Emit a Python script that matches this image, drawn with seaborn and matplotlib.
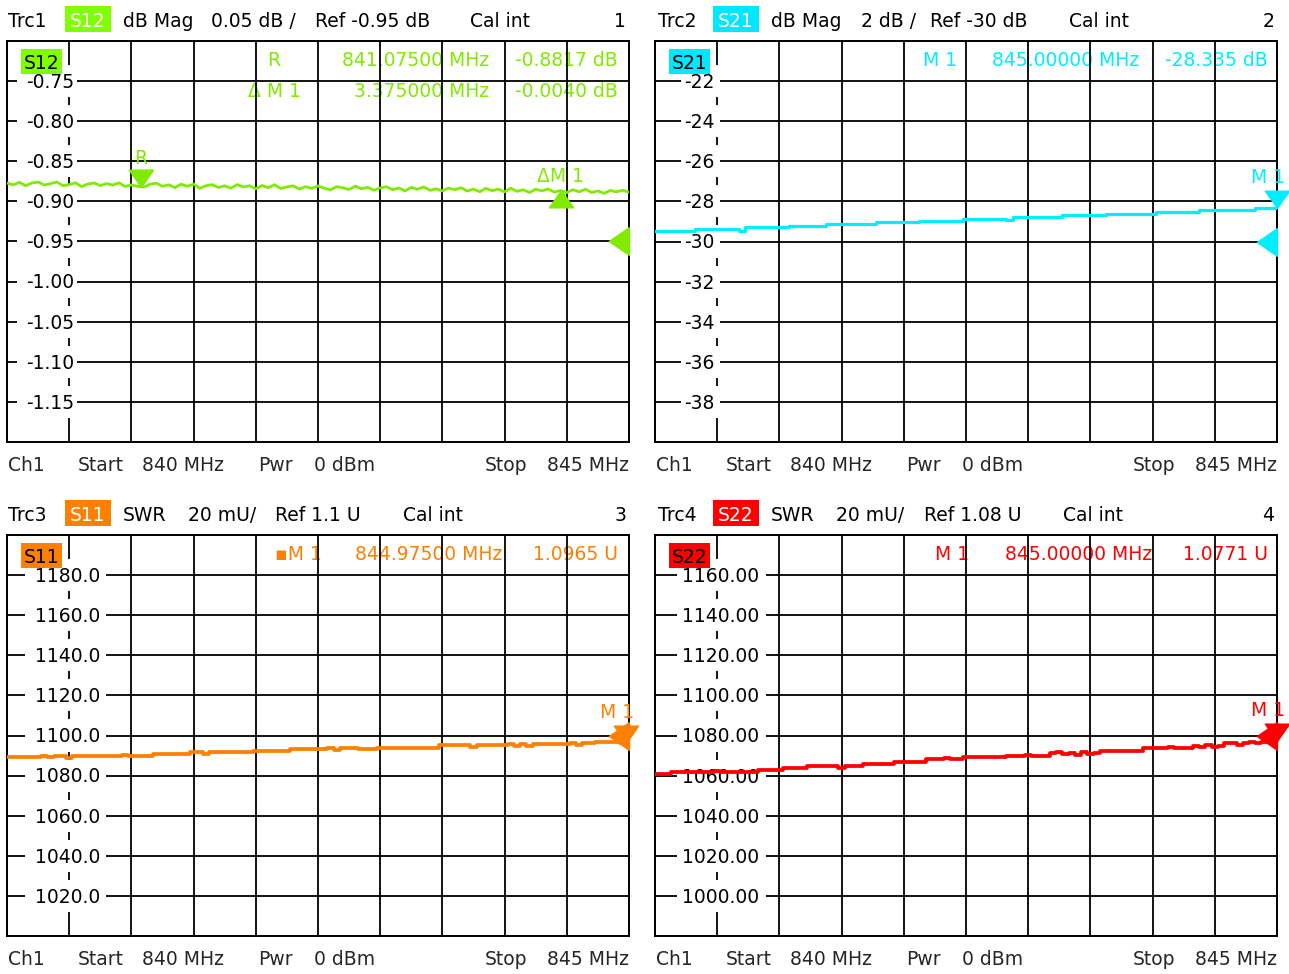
import numpy as np
import pandas as pd
import matplotlib
matplotlib.use("Agg")
import matplotlib.pyplot as plt
from matplotlib.patches import Rectangle
from matplotlib.transforms import ScaledTranslation
import seaborn as sns

# ---------------------------------------------------------------- sweep
START_MHZ = 840.0
STOP_MHZ = 845.0
N_POINTS = 101

# ---------------------------------------------------------------- traces
s12_db = [
    -0.8772, -0.8794, -0.8762, -0.8804, -0.8771, -0.8758, -0.8796, -0.8778, -0.8758, -0.8804,
    -0.8791, -0.8768, -0.8816, -0.8783, -0.8770, -0.8803, -0.8778, -0.8796, -0.8768, -0.8814,
    -0.8794, -0.8812, -0.8822, -0.8786, -0.8773, -0.8812, -0.8793, -0.8828, -0.8786, -0.8812,
    -0.8784, -0.8837, -0.8804, -0.8791, -0.8827, -0.8805, -0.8835, -0.8790, -0.8819, -0.8805,
    -0.8844, -0.8802, -0.8828, -0.8792, -0.8839, -0.8819, -0.8806, -0.8847, -0.8816, -0.8838,
    -0.8807, -0.8835, -0.8856, -0.8817, -0.8830, -0.8852, -0.8809, -0.8843, -0.8824, -0.8861,
    -0.8832, -0.8817, -0.8854, -0.8832, -0.8870, -0.8825, -0.8849, -0.8819, -0.8862, -0.8843,
    -0.8870, -0.8835, -0.8854, -0.8829, -0.8871, -0.8846, -0.8880, -0.8837, -0.8866, -0.8847,
    -0.8881, -0.8836, -0.8874, -0.8855, -0.8889, -0.8848, -0.8869, -0.8845, -0.8884, -0.8864,
    -0.8890, -0.8854, -0.8880, -0.8848, -0.8889, -0.8869, -0.8899, -0.8863, -0.8880, -0.8861, -0.8886,
]

s21_db = [
    -29.47, -29.47, -29.47, -29.47, -29.47, -29.47, -29.47, -29.39, -29.39, -29.39,
    -29.39, -29.39, -29.39, -29.39, -29.46, -29.30, -29.30, -29.30, -29.30, -29.30,
    -29.30, -29.30, -29.22, -29.22, -29.22, -29.22, -29.22, -29.22, -29.13, -29.13,
    -29.13, -29.13, -29.13, -29.13, -29.13, -29.13, -29.05, -29.05, -29.05, -29.05,
    -29.05, -29.05, -29.05, -28.96, -28.96, -28.96, -28.96, -28.96, -28.96, -28.96,
    -28.88, -28.88, -28.88, -28.88, -28.88, -28.88, -28.88, -28.95, -28.79, -28.79,
    -28.79, -28.79, -28.79, -28.79, -28.79, -28.79, -28.70, -28.70, -28.70, -28.70,
    -28.70, -28.70, -28.70, -28.61, -28.61, -28.61, -28.61, -28.61, -28.61, -28.61,
    -28.61, -28.52, -28.52, -28.52, -28.52, -28.52, -28.52, -28.52, -28.43, -28.43,
    -28.43, -28.43, -28.43, -28.43, -28.43, -28.43, -28.43, -28.34, -28.34, -28.34, -28.34,
]

s11_swr_mu = [
    1089.1, 1089.1, 1089.1, 1089.1, 1089.1, 1089.1, 1089.6, 1089.1, 1089.8, 1089.8,
    1088.9, 1089.8, 1089.8, 1089.8, 1089.8, 1089.8, 1089.8, 1089.8, 1089.8, 1090.5,
    1089.8, 1089.8, 1089.8, 1089.8, 1090.8, 1090.8, 1090.8, 1090.8, 1090.8, 1090.8,
    1091.6, 1091.6, 1090.6, 1091.6, 1091.6, 1091.6, 1091.6, 1091.6, 1091.6, 1091.6,
    1092.4, 1092.4, 1092.4, 1092.4, 1092.4, 1092.4, 1093.1, 1093.1, 1093.1, 1093.1,
    1093.1, 1093.1, 1093.9, 1093.0, 1093.6, 1093.9, 1093.9, 1093.1, 1093.1, 1093.1,
    1093.9, 1093.9, 1093.9, 1093.9, 1093.9, 1093.9, 1093.9, 1093.9, 1093.9, 1093.9,
    1095.1, 1095.1, 1095.1, 1095.1, 1095.1, 1094.3, 1095.1, 1095.1, 1095.1, 1095.1,
    1095.1, 1095.6, 1095.0, 1095.7, 1094.9, 1095.6, 1095.6, 1095.6, 1095.6, 1095.6,
    1095.6, 1096.1, 1095.3, 1096.1, 1096.1, 1096.9, 1096.9, 1096.9, 1096.9, 1096.5, 1097.8,
]

s22_swr_mu = [
    1060.8, 1060.8, 1060.8, 1061.9, 1061.9, 1061.9, 1061.9, 1061.9, 1061.9, 1061.9,
    1062.5, 1061.9, 1061.9, 1061.9, 1061.9, 1061.9, 1061.9, 1062.8, 1062.8, 1062.8,
    1062.8, 1064.0, 1064.0, 1064.0, 1064.0, 1064.8, 1064.8, 1064.8, 1064.8, 1064.8,
    1063.8, 1064.8, 1064.8, 1064.8, 1065.8, 1065.8, 1065.8, 1065.8, 1065.8, 1066.9,
    1066.9, 1066.9, 1066.9, 1066.9, 1068.1, 1068.1, 1068.1, 1068.7, 1068.1, 1068.1,
    1069.1, 1069.1, 1069.1, 1069.1, 1069.1, 1069.1, 1069.1, 1069.9, 1069.9, 1069.9,
    1070.5, 1069.9, 1069.9, 1069.9, 1071.1, 1071.8, 1070.7, 1071.5, 1070.5, 1071.9,
    1070.9, 1071.1, 1072.3, 1072.3, 1072.3, 1072.3, 1072.3, 1072.3, 1072.3, 1073.6,
    1073.6, 1073.6, 1073.6, 1074.1, 1073.6, 1073.6, 1073.6, 1074.9, 1074.2, 1075.3,
    1074.4, 1074.9, 1076.1, 1076.1, 1075.5, 1076.1, 1076.9, 1076.4, 1077.0, 1077.3, 1077.1,
]

# ---------------------------------------------------------------- markers (MHz, value)
s12_r_marker = (841.075, -0.8817)
s12_dm1_marker = (844.45, -0.8857)
s21_m1 = (845.0, -28.335)
s11_m1 = (844.975, 1096.5)
s22_m1 = (845.0, 1077.1)

# ---------------------------------------------------------------- scales (ref level, per division)
scale_s12 = (-0.95, 0.05)
scale_s21 = (-30.0, 2.0)
scale_s11 = (1100.0, 20.0)
scale_s22 = (1080.0, 20.0)

# ---------------------------------------------------------------- texts
header_s12 = ["Trc1", "dB Mag", "0.05 dB /", "Ref -0.95 dB", "Cal int", "1"]
header_s21 = ["Trc2", "dB Mag", "2 dB /", "Ref -30 dB", "Cal int", "2"]
header_s11 = ["Trc3", "SWR", "20 mU/", "Ref 1.1 U", "Cal int", "3"]
header_s22 = ["Trc4", "SWR", "20 mU/", "Ref 1.08 U", "Cal int", "4"]
footer_words = ["Ch1", "Start", "840 MHz", "Pwr", "0 dBm", "Stop", "845 MHz"]
readout_s12 = [("R", "841.07500 MHz", "-0.8817 dB"), ("\u0394 M 1", "3.375000 MHz", "-0.0040 dB")]
readout_s21 = [("M 1", "845.00000 MHz", "-28.335 dB")]
readout_s11 = [("\u25aaM 1", "844.97500 MHz", "1.0965 U")]
readout_s22 = [("M 1", "845.00000 MHz", "1.0771 U")]

GREEN = "#80ea00"
GREEN_BOX = "#80ff00"
CYAN = "#00eeff"
CYAN_BOX = "#00e8ff"
ORANGE = "#ff8000"
RED = "#ff0000"

# ---------------------------------------------------------------- style
sns.set_style("white")
plt.rcParams["font.family"] = ["DejaVu Sans"]
FS = 13.5
DIGIT_HALF_PX = 6.9

W, H = 1289, 974
PW, PH = 622, 401
fig = plt.figure(figsize=(W / 100, H / 100), dpi=100)
fig.patch.set_facecolor("white")

freq = np.linspace(START_MHZ, STOP_MHZ, N_POINTS)
df = pd.DataFrame({"freq": freq, "S12": s12_db, "S21": s21_db,
                   "S11": s11_swr_mu, "S22": s22_swr_mu})

DOWN_TRI = [(0, 0), (-0.7, 1), (0.7, 1), (0, 0)]
UP_TRI = [(0, 0), (-0.7, -1), (0.7, -1), (0, 0)]
REF_TRI = [(0, 0.55), (0, -0.55), (-0.8, 0), (0, 0.55)]


def fig_text(x, y, s, **kw):
    kw.setdefault("fontsize", FS)
    kw.setdefault("va", "baseline")
    return fig.text(x / W, 1 - y / H, s, **kw)


def fig_box(x0, y0, x1, y1, color):
    fig.add_artist(Rectangle((x0 / W, 1 - y1 / H), (x1 - x0) / W, (y1 - y0) / H,
                             transform=fig.transFigure, facecolor=color,
                             edgecolor="none"))


panels = [
    dict(key="S12", left=7, top=41, color=GREEN, box=GREEN_BOX, scale=scale_s12,
         header=header_s12, hx=[8, 123, 211, 315, 470], fmt="{:.2f}",
         lbl_cx=43, wbox=(10, 70), lw=2.0, steps=False,
         readout=readout_s12, cols=(267, 482, 611)),
    dict(key="S21", left=655, top=41, color=CYAN, box=CYAN_BOX, scale=scale_s21,
         header=header_s21, hx=[658, 771, 861, 930, 1069], fmt="{:.0f}",
         lbl_cx=44, wbox=(26, 65), lw=2.3, steps=True,
         readout=readout_s21, cols=(285, 484, 613)),
    dict(key="S11", left=7, top=535, color=ORANGE, box=ORANGE, scale=scale_s11,
         header=header_s11, hx=[8, 123, 188, 275, 403], fmt="{:.1f}",
         lbl_cx=61, wbox=(18, 99), lw=2.7, steps=True,
         readout=readout_s11, cols=(291, 495, 611)),
    dict(key="S22", left=655, top=535, color=RED, box=RED, scale=scale_s22,
         header=header_s22, hx=[658, 771, 836, 924, 1063], fmt="{:.2f}",
         lbl_cx=66, wbox=(22, 111), lw=2.7, steps=True,
         readout=readout_s22, cols=(297, 497, 613)),
]

axes = {}
for p in panels:
    L, T = p["left"], p["top"]
    key, color = p["key"], p["color"]
    ref, div = p["scale"]
    lo, hi = ref - 5 * div, ref + 5 * div

    ax = fig.add_axes([L / W, 1 - (T + PH) / H, PW / W, PH / H])
    axes[key] = ax

    line_kw = dict(drawstyle="steps-mid") if p["steps"] else {}
    sns.lineplot(data=df, x="freq", y=key, ax=ax, color=color, lw=p["lw"],
                 zorder=4, legend=False, **line_kw)

    ax.set_xlim(START_MHZ, STOP_MHZ)
    ax.set_ylim(lo, hi)
    ax.set_xticks(np.linspace(START_MHZ, STOP_MHZ, 11))
    ax.set_yticks(np.linspace(lo, hi, 11))
    ax.tick_params(length=0, labelleft=False, labelbottom=False)
    ax.set_xlabel("")
    ax.set_ylabel("")
    ax.grid(True, color="black", lw=1.3)
    ax.set_axisbelow(False)
    for sp in ax.spines.values():
        sp.set_visible(True)
        sp.set_color("black")
        sp.set_linewidth(1.4)

    # scale labels on the first vertical division line
    ytrans = ax.get_yaxis_transform()
    lbl_trans = ytrans + ScaledTranslation(0, -DIGIT_HALF_PX / 100, fig.dpi_scale_trans)
    x0, x1 = p["wbox"]
    for k in range(1, 10):
        v = hi - k * div
        ax.add_patch(Rectangle((x0 / PW, v - 0.4 * div), (x1 - x0) / PW, 0.8 * div,
                               transform=ytrans, facecolor="white",
                               edgecolor="none", zorder=3))
        ax.text(p["lbl_cx"] / PW, v, p["fmt"].format(v), transform=lbl_trans,
                ha="center", va="baseline", fontsize=FS, color="black", zorder=3.2)

    # trace name tag inside the diagram
    ax.add_patch(Rectangle((14 / PW, 1 - 33 / PH), 41 / PW, 25 / PH,
                           transform=ax.transAxes, facecolor=p["box"],
                           edgecolor="none", zorder=6))
    ax.text(34.5 / PW, 1 - 28 / PH, key, transform=ax.transAxes, ha="center",
            va="baseline", fontsize=FS, color="black", zorder=7)

    # marker readout table
    cname, cfreq, cval = p["cols"]
    for i, (name, ftxt, vtxt) in enumerate(p["readout"]):
        yb = 1 - (25 + 31 * i) / PH
        ax.text(cname / PW, yb, name, transform=ax.transAxes, ha="center",
                va="baseline", fontsize=FS, color=color, zorder=1)
        ax.text(cfreq / PW, yb, ftxt, transform=ax.transAxes, ha="right",
                va="baseline", fontsize=FS, color=color, zorder=1)
        ax.text(cval / PW, yb, vtxt, transform=ax.transAxes, ha="right",
                va="baseline", fontsize=FS, color=color, zorder=1)

    # reference level arrow at the right edge
    ax.plot([STOP_MHZ], [ref], marker=REF_TRI, ms=29, color=color, mec=color,
            ls="none", zorder=5, clip_on=False)

    # header line
    fig_box(L + 58, T - 35, L + 104, T - 9, p["box"])
    fig_text(L + 81, T - 14, key, ha="center", color="white")
    words = p["header"]
    for x, w in zip(p["hx"], words[:5]):
        fig_text(x, T - 14, w, ha="left", color="black")
    fig_text(L + 619, T - 14, words[5], ha="right", color="black")

    # footer line
    yb = T + PH + 29
    fig_text(L + 1, yb, footer_words[0], ha="left")
    fig_text(L + 71, yb, footer_words[1], ha="left")
    fig_text(L + 217, yb, footer_words[2], ha="right")
    fig_text(L + 251, yb, footer_words[3], ha="left")
    fig_text(L + 368, yb, footer_words[4], ha="right")
    fig_text(L + 478, yb, footer_words[5], ha="left")
    fig_text(L + 622, yb, footer_words[6], ha="right")


def marker(ax, pos, shape, label, dx, dy, color):
    ax.plot([pos[0]], [pos[1]], marker=shape, ms=25, color=color, mec=color,
            ls="none", zorder=5, clip_on=False)
    ax.annotate(label, xy=pos, xytext=(dx, dy), textcoords="offset points",
                ha="center", va="baseline", fontsize=FS, color=color,
                zorder=5, annotation_clip=False)


marker(axes["S12"], s12_r_marker, DOWN_TRI, "R", 0, 16.5, GREEN)
marker(axes["S12"], s12_dm1_marker, UP_TRI, "\u0394M 1", 0, 5.5, GREEN)
marker(axes["S21"], s21_m1, DOWN_TRI, "M 1", -6.5, 18, CYAN)
marker(axes["S11"], s11_m1, DOWN_TRI, "M 1", -6.5, 18, ORANGE)
marker(axes["S22"], s22_m1, DOWN_TRI, "M 1", -6.5, 18, RED)

fig.savefig("out.png", dpi=100, facecolor="white")
